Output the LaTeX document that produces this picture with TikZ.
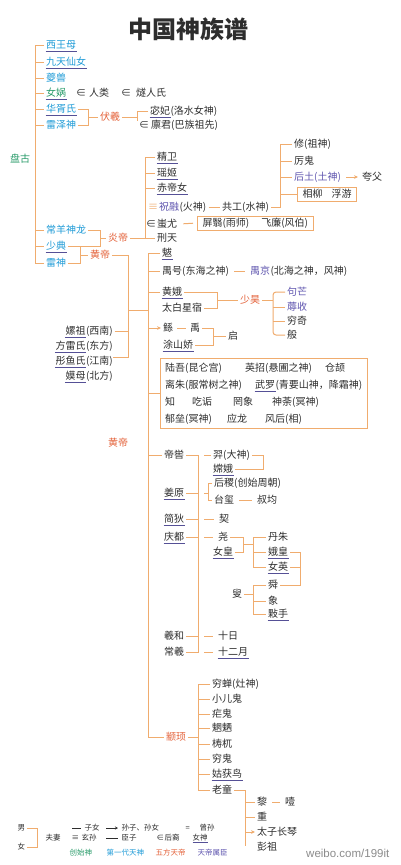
\documentclass[tikz,border=0pt]{standalone}
\usepackage{fontspec}
\setmainfont{Noto Sans CJK SC}
\newfontfamily\wmfont{Liberation Sans}
\usetikzlibrary{arrows.meta,calc}
\definecolor{lnc}{RGB}{240,172,110}
\definecolor{txt}{RGB}{45,45,45}
\definecolor{cgreen}{RGB}{40,155,105}
\definecolor{ccyan}{RGB}{30,155,215}
\definecolor{cred}{RGB}{228,98,58}
\definecolor{cpur}{RGB}{95,85,175}
\definecolor{ulc}{RGB}{85,80,150}
\tikzset{
 nm/.style={font=\fontsize{10}{12}\selectfont, text=txt, inner xsep=2pt, inner ysep=1pt, text height=8.3pt, text depth=1.7pt, anchor=west},
 tc/.style={nm, inner xsep=0pt},
 cg/.style={text=cgreen}, cc/.style={text=ccyan}, cr/.style={text=cred}, cp/.style={text=cpur},
 ul/.style={append after command={(\tikzlastnode.south west) edge[draw=ulc, line width=0.6pt, shorten <=1.5pt, shorten >=1.5pt] (\tikzlastnode.south east)}},
 ln/.style={draw=lnc, line width=1pt},
 arr/.style={ln, -{Stealth[length=4pt,width=3.6pt]}},
 bxt/.style={nm, draw=lnc, line width=1pt, inner xsep=5pt, inner ysep=2pt},
 lgd/.style={font=\fontsize{7.5}{9}\selectfont, text=txt, inner xsep=1.5pt, inner ysep=0.8pt, text height=6.3pt, text depth=1.2pt, anchor=west},
 lgl/.style={draw=txt, line width=0.7pt},
}
\begin{document}
\begin{tikzpicture}[x=1pt,y=-1pt]
\fill[white] (0,0) rectangle (400,865);
\useasboundingbox (0,0) rectangle (400,865);

\node[font=\bfseries\fontsize{24}{28}\selectfont, text=txt] (title) at (188,29) {中国神族谱};

% ---- left column
\node[nm,cc,ul] (xwm) at (44,45) {西王母};
\node[nm,cc,ul] (jtxn) at (44,62) {九天仙女};
\node[nm,cc] (kui) at (44,78) {夔兽};
\node[nm,cg,ul] (nw) at (44,93) {女娲};
\node[tc] (e1) at (76,93) {∈};
\node[nm] (rl) at (87,93) {人类};
\node[tc] (e2) at (121,93) {∈};
\node[nm] (srs) at (134,93) {燧人氏};
\node[nm,cc,ul] (hxs) at (44,109) {华胥氏};
\node[nm,cc] (lzs) at (44,125) {雷泽神};
\node[nm,cr] (fx) at (98,117) {伏羲};
\node[nm,ul] (mf) at (148,111) {宓妃};
\node[tc] (mfp) at ([xshift=-2pt]mf.east) {(洛水女神)};
\node[tc] (e3) at (139,125) {∈};
\node[nm] (lj) at (149,125) {廪君(巴族祖先)};
\node[nm,cg] (pg) at (8,159) {盘古};
\node[nm,cc] (cysl) at (44,230) {常羊神龙};
\node[nm,cc,ul] (sd) at (44,246) {少典};
\node[nm,cc] (ls) at (44,263) {雷神};
\node[nm,cr] (yd) at (106,238) {炎帝};
\node[nm,cr] (hd) at (88,255) {黄帝};

% ---- Yandi branch
\node[nm,ul] (jw) at (155,157) {精卫};
\node[nm,ul] (yj) at (155,173) {瑶姬};
\node[nm,ul] (cdn) at (155,188) {赤帝女};
\node[tc,text=lnc] (eq) at (148,207) {≡};
\node[nm,cp] (zr) at (157,207) {祝融};
\node[tc] (zrp) at ([xshift=-2pt]zr.east) {(火神)};
\node[tc] (e4) at (146,224) {∈};
\node[nm] (cy) at (155,224) {蚩尤};
\node[nm] (xt) at (155,238) {刑天};
\node[nm] (gg) at (220,207) {共工(水神)};
\node[nm] (xiu) at (292,144) {修(祖神)};
\node[nm] (lg) at (292,161) {厉鬼};
\node[nm,cp] (ht) at (292,177) {后土(土神)};
\node[nm] (kf) at (360,177) {夸父};
\node[bxt] (box1) at (297,194) {相柳\hspace{9pt}浮游};
\node[bxt] (box2) at (197,223) {屏翳(雨师)\hspace{12pt}飞廉(风伯)};

% ---- wives
\node[tc,anchor=east] (lzp) at (113,331) {(西南)};
\node[nm,anchor=east,ul] (lz) at ([xshift=2pt]lzp.west) {嫘祖};
\node[tc,anchor=east] (flp) at (113,346) {(东方)};
\node[nm,anchor=east,ul] (fl) at ([xshift=2pt]flp.west) {方雷氏};
\node[tc,anchor=east] (typ) at (113,361) {(江南)};
\node[nm,anchor=east,ul] (ty) at ([xshift=2pt]typ.west) {彤鱼氏};
\node[tc,anchor=east] (mmp) at (113,376) {(北方)};
\node[nm,anchor=east,ul] (mm) at ([xshift=2pt]mmp.west) {嫫母};

% ---- Huangdi branch
\node[nm,ul] (ba) at (160,253) {魃};
\node[nm] (yh) at (160,271) {禺号(东海之神)};
\node[nm,cp] (yj2) at (248,271) {禺京};
\node[tc] (yj2p) at ([xshift=-2pt]yj2.east) {(北海之神，风神)};
\node[nm,ul] (hue) at (160,292) {黄娥};
\node[nm] (tbxs) at (160,308) {太白星宿};
\node[nm,cr] (sh) at (238,300) {少昊};
\node[nm,cp] (gm) at (285,292) {句芒};
\node[nm,cp] (rs) at (285,307) {蓐收};
\node[nm] (qq) at (285,321) {穷奇};
\node[nm] (ban) at (285,335) {般};
\node[nm] (gun) at (161,328) {鲧};
\node[nm] (yu) at (188,328) {禹};
\node[nm,ul] (tsj) at (161,345) {涂山娇};
\node[nm] (qi) at (226,336.5) {启};

\node[draw=lnc, line width=1pt, minimum width=207pt, minimum height=70pt, anchor=north west, inner sep=0pt] (box3) at (160,358) {};
\node[nm] (r1a) at (163,368) {陆吾(昆仑宫)};
\node[nm] (r1b) at (243,368) {英招(悬圃之神)};
\node[nm] (r1c) at (323,368) {仓颉};
\node[nm] (r2a) at (163,385) {离朱(服常树之神)};
\node[nm,ul] (r2b) at (253,385) {武罗};
\node[tc] (r2bp) at ([xshift=-2pt]r2b.east) {(青要山神，降霜神)};
\node[nm] (r3a) at (163,402) {知};
\node[nm] (r3b) at (190,402) {吃诟};
\node[nm] (r3c) at (231,402) {罔象};
\node[nm] (r3d) at (270,402) {神荼(冥神)};
\node[nm] (r4a) at (163,419) {郁垒(冥神)};
\node[nm] (r4b) at (225,419) {应龙};
\node[nm] (r4c) at (263,419) {风后(相)};

\node[nm,cr] (hd2) at (106,443) {黄帝};

\node[nm] (dk) at (162,455) {帝喾};
\node[nm] (yi) at (211,455) {羿(大神)};
\node[nm,ul] (ce) at (211,469) {嫦娥};
\node[nm,ul] (jy) at (162,493) {姜原};
\node[nm] (hj) at (212,483) {后稷(创始周朝)};
\node[nm] (tx) at (212,500) {台玺};
\node[nm] (sj) at (255,500) {叔均};
\node[nm,ul] (jd) at (162,519) {简狄};
\node[nm] (qie) at (217,519) {契};
\node[nm,ul] (qd) at (162,537) {庆都};
\node[nm] (yao) at (216,537) {尧};
\node[nm,ul] (nh) at (211,552) {女皇};
\node[nm] (dz) at (266,537) {丹朱};
\node[nm,ul] (ehg) at (266,552) {娥皇};
\node[nm,ul] (ny) at (266,567) {女英};
\node[nm] (shun) at (266,585) {舜};
\node[nm] (xiang) at (266,601) {象};
\node[nm,ul] (ds) at (266,614) {敤手};
\node[nm] (sou) at (230,594) {叟};
\node[nm] (xh) at (162,636) {羲和};
\node[nm] (sr) at (216,636) {十日};
\node[nm] (cx) at (162,652) {常羲};
\node[nm,ul] (sey) at (216,652) {十二月};

\node[nm,cr] (zx) at (164,737) {颛顼};
\node[nm] (qc) at (210,684) {穷蝉(灶神)};
\node[nm] (xeg) at (210,699) {小儿鬼};
\node[nm] (ng) at (210,714) {疟鬼};
\node[nm] (wl) at (210,728) {魍魉};
\node[nm] (tw) at (210,744) {梼杌};
\node[nm] (qg) at (210,759) {穷鬼};
\node[nm,ul] (ghn) at (210,774) {姑获鸟};
\node[nm] (lt) at (210,790) {老童};
\node[nm] (li) at (255,802) {黎};
\node[nm] (ye) at (283,802) {噎};
\node[nm] (zh) at (255,817) {重};
\node[nm] (tzcq) at (255,832) {太子长琴};
\node[nm] (pz) at (255,847) {彭祖};

% ---- connectors
\coordinate (lsp) at (35,0);
\draw[ln] (xwm.west) -| (lsp |- ls.west) -- (ls.west);
\foreach \n in {jtxn,kui,nw,hxs,lzs,cysl,sd} \draw[ln] (lsp |- \n.west) -- (\n.west);

\coordinate (fsp) at (88,0);
\draw[ln] (hxs.east) -| (fsp |- lzs.east) -- (lzs.east);
\draw[ln] (fsp |- fx.west) -- (fx.west);
\coordinate (fce) at (137,121);
\draw[ln] (fx.east) -- (fce |- fx.east);
\draw[ln] (mf.west) -| (fce);

\coordinate (ysp) at (100,0);
\draw[ln] (cysl.east) -| (ysp |- sd.east) -- (sd.east);
\draw[ln] (ysp |- yd.west) -- (yd.west);
\coordinate (hsp0) at (80,0);
\draw[ln] (hsp0 |- sd.east) -- (hsp0 |- ls.east) -- (ls.east);
\draw[ln] (hsp0 |- hd.west) -- (hd.west);

\coordinate (ycs) at (145,0);
\draw[ln] (yd.east) -- (xt.west);
\draw[ln] (jw.west) -| (ycs |- xt.west);
\foreach \n in {yj,cdn} \draw[ln] (ycs |- \n.west) -- (\n.west);
\draw[ln, shorten <=2pt] (zrp.east) -- (gg.west);
\coordinate (gsp) at (280,0);
\draw[ln] (gg.east) -| (gsp |- xiu.west) -- (xiu.west);
\foreach \n in {lg,ht,box1} \draw[ln] (gsp |- \n.west) -- (\n.west);
\draw[arr, shorten <=3pt, shorten >=2pt] (ht.east) -- (kf.west);
\draw[ln, shorten <=4pt, shorten >=4pt] (cy.east) -- (box2.west);

\coordinate (wsp) at (128,0);
\coordinate (wb) at (128,357);
\coordinate (hjn) at (128,310);
\draw[ln] (hd.east) -| (wb) -- (wb -| lzp.east);
\draw[ln, shorten <=1.5pt] (lzp.east) -- (wsp |- lzp.east);
\coordinate (hsp) at (148,0);
\draw[ln] (hjn) -- (hsp |- hjn);
\draw[ln] (ba.west) -| (hsp |- zx.west) -- (zx.west);
\foreach \n in {yh,hue,dk} \draw[ln] (hsp |- \n.west) -- (\n.west);
\draw[ln] (hsp |- box3.west) -- (box3.west);
\draw[arr] (hsp |- gun.west) -- (gun.west);
\draw[ln, shorten <=3pt, shorten >=3pt] (yh.east) -- (yj2.west);

\coordinate (shs) at (217,0);
\draw[ln] (hue.east) -| (shs |- tbxs.east) -- (tbxs.east);
\draw[ln] (shs |- sh.west) -- (sh.west);
\coordinate (scs) at (273,0);
\draw[ln] (sh.east) -- (scs |- sh.east);
\draw[ln, rounded corners=3pt] (gm.west) -| (scs |- ban.west) -- (ban.west);
\foreach \n in {rs,qq} \draw[ln] (scs |- \n.west) -- (\n.west);

\draw[ln, shorten <=2pt, shorten >=2pt] (gun.east) -- (yu.west);
\coordinate (ysp2) at (213,0);
\draw[ln] (yu.east) -| (ysp2 |- tsj.east) -- (tsj.east);
\draw[ln] (ysp2 |- qi.west) -- (qi.west);

\coordinate (dsp) at (198,0);
\coordinate (dsp2) at (204,0);
\draw[ln] (dk.east) -- (dsp |- dk.east) -- (dsp |- cx.east) -- (cx.east);
\draw[ln] (dsp2 |- yi.west) -- (yi.west);
\foreach \n in {jy,jd,qd,xh} \draw[ln] (\n.east) -- (dsp |- \n.east);
\coordinate (jsp) at (208,0);
\draw[ln] (dsp2 |- jy.east) -- (jsp |- jy.east);
\draw[ln] (hj.west) -| (jsp |- tx.west) -- (tx.west);
\draw[ln, shorten <=3pt, shorten >=3pt] (tx.east) -- (sj.west);
\foreach \n in {qie,yao,sr,sey} \draw[ln, shorten >=3pt] (dsp2 |- \n.west) -- (\n.west);

\coordinate (ysp3) at (263,0);
\draw[ln] (yi.east) -| (ysp3 |- ce.east) -- (ce.east);
\coordinate (ysp4) at (243,0);
\draw[ln] (yao.east) -| (ysp4 |- nh.east) -- (nh.east);
\coordinate (ynm) at (243,544.5);
\coordinate (csp) at (253,0);
\draw[ln] (ynm) -- (csp |- ynm);
\draw[ln] (dz.west) -| (csp |- ny.west) -- (ny.west);
\draw[ln] (csp |- ehg.west) -- (ehg.west);
\coordinate (esp) at (300,0);
\draw[ln] (ehg.east) -| (esp |- shun.east) -- (shun.east);
\draw[ln] (ny.east) -- (esp |- ny.east);
\draw[ln] (sou.east) -- (csp |- sou.east);
\draw[ln] (shun.west) -| (csp |- ds.west) -- (ds.west);
\draw[ln] (csp |- xiang.west) -- (xiang.west);

\draw[ln] (zx.east) -- (dsp |- zx.east);
\draw[ln] (qc.west) -| (dsp |- lt.west) -- (lt.west);
\foreach \n in {xeg,ng,wl,tw,qg,ghn} \draw[ln] (dsp |- \n.west) -- (\n.west);
\coordinate (lsp2) at (245,0);
\draw[ln] (lt.east) -| (lsp2 |- pz.west);
\draw[ln, line width=0.7pt, double=white, double distance=1.1pt] (lsp2 |- pz.west) -- (pz.west);
\foreach \n in {li,zh} \draw[ln] (lsp2 |- \n.west) -- (\n.west);
\draw[arr] (lsp2 |- tzcq.west) -- (tzcq.west);
\draw[ln, shorten <=3pt, shorten >=3pt] (li.east) -- (ye.west);

% ---- legend
\node[lgd] (nan) at (16,828) {男};
\node[lgd] (nv) at (16,847) {女};
\node[lgd] (fq) at (44,838) {夫妻};
\coordinate (lgs) at (37,0);
\draw[ln] (nan.east) -| (lgs |- nv.east) -- (nv.east);
\coordinate (ld1) at (72,828);
\node[lgd] (zn) at (83,828) {子女};
\draw[lgl, shorten >=2pt] (ld1) -- (zn.west);
\coordinate (la1) at (106,828);
\node[lgd] (sz) at (120,828) {孙子、孙女};
\draw[lgl, -{Stealth[length=3pt,width=3pt]}, shorten >=2pt] (la1) -- (sz.west);
\node[lgd] (deq) at (184,828) {=};
\node[lgd] (zs) at (198,828) {曾孙};
\node[lgd] (dtr) at (70,838) {≡};
\node[lgd] (xs) at (80,838) {玄孙};
\coordinate (ld2) at (106,838);
\node[lgd] (cz) at (120,838) {臣子};
\draw[lgl, shorten >=2pt] (ld2) -- (cz.west);
\node[lgd] (dein) at (155,838) {∈};
\node[lgd] (hy) at (163,838) {后裔};
\node[lgd,ul] (ns) at (191,838) {女神};
\node[lgd,cg] (l1) at (68,853) {创始神};
\node[lgd,cc] (l2) at (105,853) {第一代天神};
\node[lgd,cr] (l3) at (154,853) {五方天帝};
\node[lgd,cp] (l4) at (196,853) {天帝属臣};

\node[font=\wmfont\fontsize{11.5}{13}\selectfont, text=black!45, anchor=west, inner sep=0pt] (wm) at (306,853) {weibo.com/199it};
\end{tikzpicture}
\end{document}
